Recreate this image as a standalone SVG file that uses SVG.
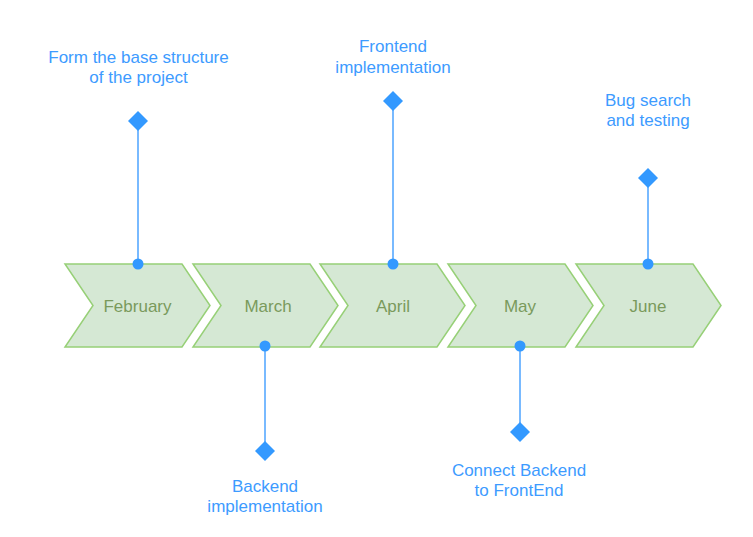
<svg xmlns="http://www.w3.org/2000/svg" width="753" height="537" viewBox="0 0 753 537">
<style>
.chev{fill:#d5e8d4;stroke:#97d077;stroke-width:1.5}
.mon{font-family:"Liberation Sans",Arial,sans-serif;font-size:17px;fill:#7a9a5c;text-anchor:middle;dominant-baseline:central}
.lbl{font-family:"Liberation Sans",Arial,sans-serif;font-size:17px;fill:#3d9bff;text-anchor:middle;dominant-baseline:central}
.ln{stroke:#4da3ff;stroke-width:1.5;fill:none}
.dot{fill:#3399ff}
.dia{fill:#3399ff}
</style>
<rect width="753" height="537" fill="#ffffff"/>
<g id="feb"><polygon class="chev" points="65,264 182,264 210,305.5 182,347 65,347 93,305.5"/><text class="mon" x="137.5" y="306">February</text></g>
<g id="mar"><polygon class="chev" points="193,264 310,264 338,305.5 310,347 193,347 221,305.5"/><text class="mon" x="268" y="306">March</text></g>
<g id="apr"><polygon class="chev" points="320,264 437,264 465,305.5 437,347 320,347 348,305.5"/><text class="mon" x="393" y="306">April</text></g>
<g id="may"><polygon class="chev" points="448,264 565,264 593,305.5 565,347 448,347 476,305.5"/><text class="mon" x="520" y="306">May</text></g>
<g id="jun"><polygon class="chev" points="576,264 693,264 721,305.5 693,347 576,347 604,305.5"/><text class="mon" x="648" y="306">June</text></g>
<g id="connectors">
<line class="ln" x1="138" y1="121" x2="138" y2="264"/>
<line class="ln" x1="265" y1="346" x2="265" y2="451"/>
<line class="ln" x1="393" y1="101" x2="393" y2="264"/>
<line class="ln" x1="520" y1="346" x2="520" y2="432"/>
<line class="ln" x1="648" y1="178" x2="648" y2="264"/>
<circle class="dot" cx="138" cy="264" r="5.5"/>
<circle class="dot" cx="265" cy="346" r="5.5"/>
<circle class="dot" cx="393" cy="264" r="5.5"/>
<circle class="dot" cx="520" cy="346" r="5.5"/>
<circle class="dot" cx="648" cy="264" r="5.5"/>
<polygon class="dia" points="138,111 148,121 138,131 128,121"/>
<polygon class="dia" points="265,441 275,451 265,461 255,451"/>
<polygon class="dia" points="393,91 403,101 393,111 383,101"/>
<polygon class="dia" points="520,422 530,432 520,442 510,432"/>
<polygon class="dia" points="648,168 658,178 648,188 638,178"/>
</g>
<g id="label-feb"><text class="lbl" x="138.5" y="57">Form the base structure</text><text class="lbl" x="138.5" y="77">of the project</text></g>
<g id="label-apr"><text class="lbl" x="393" y="46">Frontend</text><text class="lbl" x="393" y="67">implementation</text></g>
<g id="label-jun"><text class="lbl" x="648" y="100">Bug search</text><text class="lbl" x="648" y="120">and testing</text></g>
<g id="label-mar"><text class="lbl" x="265" y="486">Backend</text><text class="lbl" x="265" y="506">implementation</text></g>
<g id="label-may"><text class="lbl" x="519" y="470">Connect Backend</text><text class="lbl" x="519" y="490">to FrontEnd</text></g>
</svg>
